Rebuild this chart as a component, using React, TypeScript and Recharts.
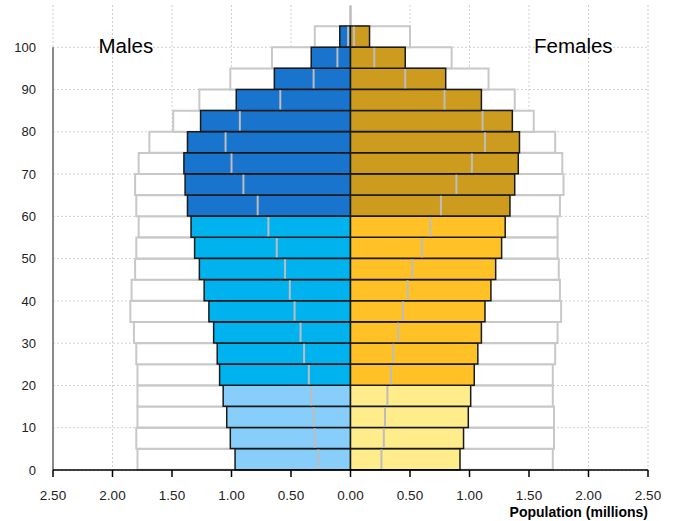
import { BarChart, Bar, Cell, XAxis, YAxis, CartesianGrid, ReferenceLine } from 'recharts';

// age group starts, bottom to top (last band is empty headroom)
const ages = ['0', '5', '10', '15', '20', '25', '30', '35', '40', '45', '50', '55', '60', '65', '70', '75', '80', '85', '90', '95', '100', '105'];

// millions
const maleNow = [0.97, 1.01, 1.04, 1.07, 1.1, 1.12, 1.15, 1.19, 1.23, 1.27, 1.31, 1.34, 1.37, 1.39, 1.4, 1.37, 1.26, 0.96, 0.64, 0.33, 0.09];
const maleMarker = [0.27, 0.3, 0.31, 0.33, 0.35, 0.39, 0.42, 0.47, 0.51, 0.55, 0.62, 0.69, 0.78, 0.9, 1.0, 1.05, 0.93, 0.59, 0.31, 0.11, 0.02];
const maleOutline = [1.79, 1.8, 1.79, 1.79, 1.79, 1.8, 1.82, 1.85, 1.84, 1.81, 1.8, 1.78, 1.8, 1.81, 1.78, 1.69, 1.49, 1.27, 1.01, 0.66, 0.3];

const femaleNow = [0.92, 0.95, 0.99, 1.01, 1.04, 1.07, 1.1, 1.13, 1.18, 1.22, 1.27, 1.3, 1.34, 1.38, 1.41, 1.42, 1.36, 1.1, 0.8, 0.46, 0.16];
const femaleMarker = [0.26, 0.28, 0.29, 0.31, 0.34, 0.36, 0.4, 0.44, 0.48, 0.52, 0.6, 0.67, 0.76, 0.89, 1.02, 1.13, 1.11, 0.79, 0.46, 0.2, 0.03];
const femaleOutline = [1.7, 1.71, 1.71, 1.7, 1.7, 1.72, 1.74, 1.77, 1.76, 1.75, 1.74, 1.74, 1.76, 1.79, 1.78, 1.72, 1.54, 1.38, 1.16, 0.85, 0.5];

const xTicks = [-2.5, -2, -1.5, -1, -0.5, 0, 0.5, 1, 1.5, 2, 2.5];
const yTicks = [0, 10, 20, 30, 40, 50, 60, 70, 80, 90, 100];

const MALE_COLORS = ['#87cefa', '#00b2ee', '#1874cd'];
const FEMALE_COLORS = ['#ffec8b', '#ffc125', '#cd9b1d'];
const FONT = '"Liberation Sans", Arial, sans-serif';

const colorIdx = (i: number) => (i < 4 ? 0 : i < 12 ? 1 : 2);

const data = ages.map((age, i) => ({
  age,
  mOut: maleOutline[i] != null ? -maleOutline[i] : null,
  fOut: femaleOutline[i] ?? null,
  mNow: maleNow[i] != null ? -maleNow[i] : null,
  fNow: femaleNow[i] ?? null,
  mMark: maleMarker[i] != null ? -maleMarker[i] : null,
  fMark: femaleMarker[i] ?? null,
}));

const markerShape = (side: 'left' | 'right') => (props: any) => {
  const { x, y, width, height } = props;
  if (x == null || !height) return <g />;
  const xe = side === 'left' ? Math.min(x, x + width) : Math.max(x, x + width);
  return <line x1={xe} x2={xe} y1={y + 0.8} y2={y + height - 0.8} stroke="#bdbdbd" strokeWidth={2} />;
};

// labels sit on the lower edge of each 5-year band
const AgeTick = (props: any) => {
  const { x, y, payload } = props;
  const age = Number(payload.value);
  if (!yTicks.includes(age)) return <g />;
  const off = payload.offset || 465 / ages.length / 2;
  return (
    <text x={x} y={y + off} dy="0.355em" textAnchor="end" fill="#222" fontSize={13} fontFamily={FONT}>
      {age}
    </text>
  );
};

// horizontal grid at band edges
const hGrid = ({ yAxis, offset }: any) => {
  const band = offset.height / ages.length;
  return yTicks.map((a) => {
    try {
      const s = yAxis?.scale;
      const v = s?.(String(a));
      if (typeof v === 'number' && s.bandwidth) return v + s.bandwidth();
    } catch (e) {
      // fall through
    }
    return offset.top + offset.height - (a / 5) * band;
  });
};

export default function App() {
  return (
    <div style={{ position: 'absolute', left: 0, top: 0, width: 682, height: 521, background: '#fff', fontFamily: FONT }}>
      <BarChart
        width={682}
        height={521}
        data={data}
        layout="vertical"
        stackOffset="sign"
        barCategoryGap={0}
        barGap="-100%"
        margin={{ top: 5, right: 34, bottom: 0, left: 0 }}
      >
        <CartesianGrid stroke="#d0d0d0" strokeDasharray="2 2" horizontalCoordinatesGenerator={hGrid} />
        <XAxis
          type="number"
          domain={[-2.5, 2.5]}
          ticks={xTicks}
          allowDataOverflow
          tickFormatter={(v: number) => Math.abs(v).toFixed(2)}
          height={51}
          tickSize={7}
          tickMargin={13}
          axisLine={{ stroke: '#000', strokeWidth: 1.5 }}
          tickLine={{ stroke: '#000', strokeWidth: 1.5 }}
          tick={{ fill: '#222', fontSize: 13.5, fontFamily: FONT }}
        />
        <YAxis
          type="category"
          dataKey="age"
          reversed
          interval={0}
          width={53}
          axisLine={false}
          tickLine={false}
          tickSize={6}
          tickMargin={11}
          tick={<AgeTick />}
        />
        <ReferenceLine
          segment={[{ x: -2.5, y: '0' }, { x: -2.5, y: '100' }]}
          position="end"
          stroke="#8a8a8a"
          strokeWidth={2}
        />

        <Bar stackId="o" dataKey="mOut" fill="#fff" stroke="#c8c8c8" strokeWidth={2} isAnimationActive={false} />
        <Bar stackId="o" dataKey="fOut" fill="#fff" stroke="#c8c8c8" strokeWidth={2} isAnimationActive={false} />

        <Bar stackId="c" dataKey="mNow" stroke="#1a1a1a" strokeWidth={1.5} isAnimationActive={false}>
          {data.map((_, i) => (
            <Cell key={`m-${i}`} fill={MALE_COLORS[colorIdx(i)]} />
          ))}
        </Bar>
        <Bar stackId="c" dataKey="fNow" stroke="#1a1a1a" strokeWidth={1.5} isAnimationActive={false}>
          {data.map((_, i) => (
            <Cell key={`f-${i}`} fill={FEMALE_COLORS[colorIdx(i)]} />
          ))}
        </Bar>

        <Bar stackId="m" dataKey="mMark" shape={markerShape('left')} isAnimationActive={false} />
        <Bar stackId="m" dataKey="fMark" shape={markerShape('right')} isAnimationActive={false} />
      </BarChart>

      <svg width={682} height={521} style={{ position: 'absolute', left: 0, top: 0, pointerEvents: 'none' }}>
        <text x={98.5} y={52.7} fontSize={20.5} fill="#000" fontFamily={FONT}>
          Males
        </text>
        <text x={534} y={52.7} fontSize={20.5} fill="#000" fontFamily={FONT}>
          Females
        </text>
        <text x={648} y={516.5} fontSize={14} fontWeight="bold" fill="#000" textAnchor="end" fontFamily={FONT}>
          Population (millions)
        </text>
      </svg>
    </div>
  );
}
